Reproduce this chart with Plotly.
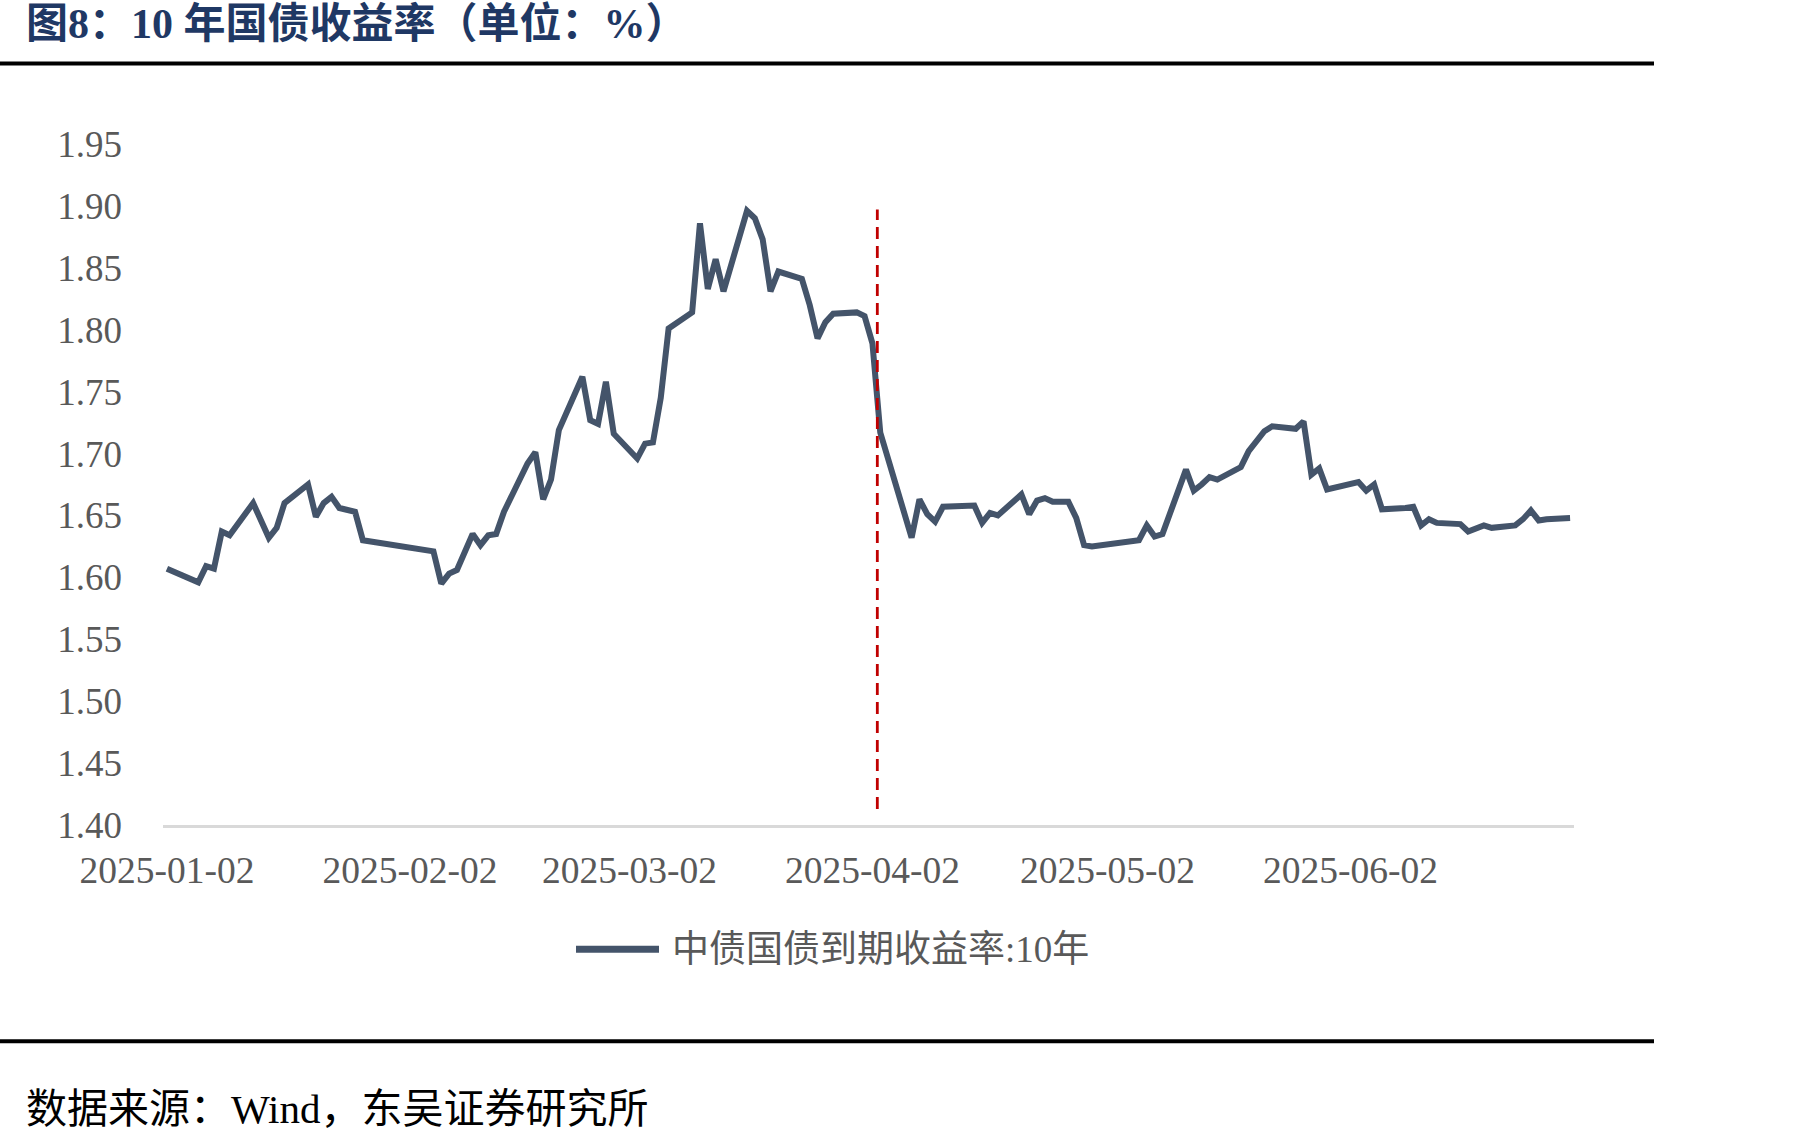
import plotly.graph_objects as go

# ---------------- data ----------------
dates = [
    "2025-01-02", "2025-01-03", "2025-01-06", "2025-01-07", "2025-01-08", "2025-01-09", "2025-01-10",
    "2025-01-13", "2025-01-14", "2025-01-15", "2025-01-16", "2025-01-17",
    "2025-01-20", "2025-01-21", "2025-01-22", "2025-01-23", "2025-01-24", "2025-01-26", "2025-01-27",
    "2025-02-05", "2025-02-06", "2025-02-07", "2025-02-08",
    "2025-02-10", "2025-02-11", "2025-02-12", "2025-02-13", "2025-02-14",
    "2025-02-17", "2025-02-18", "2025-02-19", "2025-02-20", "2025-02-21",
    "2025-02-24", "2025-02-25", "2025-02-26", "2025-02-27", "2025-02-28",
    "2025-03-03", "2025-03-04", "2025-03-05", "2025-03-06", "2025-03-07",
    "2025-03-10", "2025-03-11", "2025-03-12", "2025-03-13", "2025-03-14",
    "2025-03-17", "2025-03-18", "2025-03-19", "2025-03-20", "2025-03-21",
    "2025-03-24", "2025-03-25", "2025-03-26", "2025-03-27", "2025-03-28",
    "2025-03-31", "2025-04-01", "2025-04-02", "2025-04-03",
    "2025-04-07", "2025-04-08", "2025-04-09", "2025-04-10", "2025-04-11",
    "2025-04-14", "2025-04-15", "2025-04-16", "2025-04-17", "2025-04-18",
    "2025-04-21", "2025-04-22", "2025-04-23", "2025-04-24", "2025-04-25", "2025-04-27",
    "2025-04-28", "2025-04-29", "2025-04-30",
    "2025-05-06", "2025-05-07", "2025-05-08", "2025-05-09",
    "2025-05-12", "2025-05-13", "2025-05-14", "2025-05-15", "2025-05-16",
    "2025-05-19", "2025-05-20", "2025-05-21", "2025-05-22", "2025-05-23",
    "2025-05-26", "2025-05-27", "2025-05-28", "2025-05-29", "2025-05-30",
    "2025-06-03", "2025-06-04", "2025-06-05", "2025-06-06",
    "2025-06-09", "2025-06-10", "2025-06-11", "2025-06-12", "2025-06-13",
    "2025-06-16", "2025-06-17", "2025-06-18", "2025-06-19", "2025-06-20",
    "2025-06-23", "2025-06-24", "2025-06-25", "2025-06-26", "2025-06-27",
    "2025-06-30",
]

yield_10y = [
    1.607, 1.604, 1.596, 1.609, 1.607, 1.637, 1.634,
    1.660, 1.647, 1.632, 1.640, 1.660,
    1.675, 1.649, 1.660, 1.665, 1.656, 1.653, 1.630,
    1.621, 1.595, 1.603, 1.606,
    1.635, 1.626, 1.634, 1.635, 1.653,
    1.692, 1.701, 1.663, 1.679, 1.719,
    1.762, 1.727, 1.724, 1.758, 1.716,
    1.696, 1.708, 1.709, 1.745, 1.801,
    1.814, 1.886, 1.833, 1.857, 1.831,
    1.896, 1.890, 1.873, 1.831, 1.847,
    1.841, 1.820, 1.793, 1.806, 1.813,
    1.814, 1.811, 1.789, 1.717,
    1.632, 1.663, 1.651, 1.645, 1.657,
    1.658, 1.658, 1.644, 1.652, 1.650,
    1.667, 1.651, 1.662, 1.664, 1.661, 1.661,
    1.648, 1.626, 1.625,
    1.630, 1.642, 1.633, 1.635,
    1.687, 1.670, 1.675, 1.681, 1.679,
    1.689, 1.702, 1.711, 1.718, 1.722,
    1.720, 1.726, 1.683, 1.688, 1.671,
    1.677, 1.670, 1.675, 1.655,
    1.656, 1.657, 1.642, 1.647, 1.644,
    1.643, 1.637, 1.639, 1.642, 1.640,
    1.642, 1.647, 1.654, 1.646, 1.647,
    1.648,
]

x_tick_vals = ["2025-01-02", "2025-02-02", "2025-03-02", "2025-04-02", "2025-05-02", "2025-06-02"]
x_tick_text = ["2025-01-02", "2025-02-02", "2025-03-02", "2025-04-02", "2025-05-02", "2025-06-02"]
y_tick_vals = [1.40, 1.45, 1.50, 1.55, 1.60, 1.65, 1.70, 1.75, 1.80, 1.85, 1.90, 1.95]

series_name = "中债国债到期收益率:10年"
title_text = "图8：10 年国债收益率（单位：%）"
source_text = "数据来源：Wind，东吴证券研究所"

# event marker (dashed vertical line)
event_x = "2025-04-02 15:00"
event_y = [1.413, 1.897]

# ---------------- layout geometry ----------------
W, H = 1807, 1145
L, R, T, B = 163, 233, 143.5, 319.5
PW = W - L - R
PH = H - T - B


def px(xp):
    return (xp - L) / PW


def py(yp):
    return (H - B - yp) / PH


LINE_COLOR = "#44546A"
SERIF = "Liberation Serif, Times New Roman, serif"
MIXED = "Liberation Serif, Noto Sans CJK SC, serif"

fig = go.Figure()
fig.add_trace(go.Scatter(
    x=dates, y=yield_10y, mode="lines", name=series_name,
    line=dict(color=LINE_COLOR, width=6), showlegend=False,
    hoverinfo="x+y",
))

shapes = [
    # dashed red event line
    dict(type="line", xref="x", yref="y", x0=event_x, x1=event_x,
         y0=event_y[0], y1=event_y[1],
         line=dict(color="#C00000", width=2.8, dash="12px,7px")),
    # top rule
    dict(type="line", xref="paper", yref="paper", x0=px(0), x1=px(1654),
         y0=py(63), y1=py(63), line=dict(color="#000000", width=4)),
    # bottom rule
    dict(type="line", xref="paper", yref="paper", x0=px(0), x1=px(1654),
         y0=py(1042), y1=py(1042), line=dict(color="#000000", width=4)),
    # legend line sample
    dict(type="line", xref="paper", yref="paper", x0=px(576), x1=px(659),
         y0=py(950), y1=py(950), line=dict(color=LINE_COLOR, width=7)),
]

annotations = [
    dict(text="<b>" + title_text + "</b>", xref="paper", yref="paper",
         x=px(24), y=py(23), xanchor="left", yanchor="middle", showarrow=False,
         font=dict(family=MIXED, size=42, color="#1F3864")),
    dict(text=source_text, xref="paper", yref="paper",
         x=px(24), y=py(1110), xanchor="left", yanchor="middle", showarrow=False,
         font=dict(family=MIXED, size=41, color="#000000")),
    dict(text=series_name, xref="paper", yref="paper",
         x=px(670), y=py(950), xanchor="left", yanchor="middle", showarrow=False,
         font=dict(family=MIXED, size=37, color="#595959")),
]

fig.update_layout(
    width=W, height=H,
    margin=dict(l=L, r=R, t=T, b=B, pad=0),
    paper_bgcolor="white", plot_bgcolor="white",
    shapes=shapes, annotations=annotations,
    showlegend=False,
    xaxis=dict(
        type="date",
        range=["2025-01-01 12:00", "2025-06-30 12:00"],
        tickvals=x_tick_vals, ticktext=x_tick_text,
        showgrid=False, zeroline=False,
        showline=True, linecolor="#D9D9D9", linewidth=2.5,
        ticks="", ticklabelstandoff=10,
        tickfont=dict(family=SERIF, size=37.5, color="#595959"),
    ),
    yaxis=dict(
        range=[1.40, 1.95],
        tickvals=y_tick_vals, tickformat=".2f",
        showgrid=False, zeroline=False, showline=False,
        ticks="", ticklabelstandoff=40,
        tickfont=dict(family=SERIF, size=37, color="#595959"),
    ),
)

fig.write_html("out.html")
